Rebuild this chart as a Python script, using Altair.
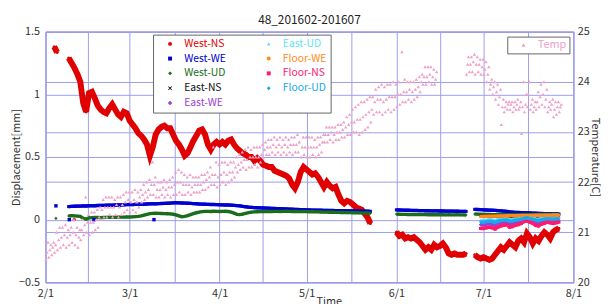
import altair as alt
import pandas as pd
from datetime import datetime, timezone

T0 = datetime(2016, 2, 1, tzinfo=timezone.utc).timestamp() * 1000
DAY = 86400000.0
FONT = "Noto Sans CJK JP"
GRID = "#9c9cee"
FRAME = "#6a6ae0"
PINK = "#eea2c8"

SERIES = ["West-NS", "West-WE", "West-UD", "East-NS", "East-WE",
          "East-UD", "Floor-WE", "Floor-NS", "Floor-UD"]
COLORS = {"West-NS": "#e00000", "West-WE": "#0000d0", "West-UD": "#1a6e1a",
          "East-NS": "#111111", "East-WE": "#9a3fd0", "East-UD": "#5fe3f5",
          "Floor-WE": "#ff8a1a", "Floor-NS": "#ff1a70", "Floor-UD": "#1aa8ee"}
XPATH = "M-1,-0.7L-0.7,-1L0,-0.3L0.7,-1L1,-0.7L0.3,0L1,0.7L0.7,1L0,0.3L-0.7,1L-1,0.7L-0.3,0Z"
SHAPES = {"West-NS": "circle", "West-WE": "square", "West-UD": "diamond",
          "East-NS": XPATH, "East-WE": "cross", "East-UD": "triangle-up",
          "Floor-WE": "circle", "Floor-NS": "square", "Floor-UD": "diamond"}

# ---- displacement data: (start day from 2/1, daily values) ----
west_ns = [
    (3, [1.38, 1.335]),
    (8, [1.29, 1.25, 1.21, 1.16, 1.10, 0.93, 0.86, 1.01, 1.02, 0.97,
         0.91, 0.88, 0.86, 0.85, 0.89, 0.92, 0.88, 0.84, 0.82, 0.86,
         0.85, 0.79, 0.76, 0.73, 0.69, 0.67, 0.64, 0.60, 0.51, 0.58,
         0.68, 0.72, 0.74, 0.75, 0.73, 0.73, 0.68, 0.63, 0.60, 0.56,
         0.51, 0.53, 0.58, 0.63, 0.67, 0.71, 0.72, 0.68, 0.60, 0.56,
         0.60, 0.62, 0.60, 0.62, 0.60, 0.63, 0.64, 0.60, 0.57, 0.55,
         0.53, 0.52, 0.50, 0.50, 0.47, 0.49, 0.47, 0.44, 0.43, 0.42,
         0.42, 0.39, 0.38, 0.37, 0.36, 0.35, 0.33, 0.28, 0.25, 0.30,
         0.38, 0.42, 0.40, 0.38, 0.36, 0.37, 0.34, 0.30, 0.26, 0.30,
         0.27, 0.25, 0.26, 0.20, 0.15, 0.13, 0.15, 0.14, 0.12, 0.10,
         0.09, 0.08, 0.05, 0.02, -0.03]),
    (121, [-0.10, -0.13, -0.12, -0.15, -0.14, -0.15, -0.14, -0.16, -0.18, -0.21,
           -0.24, -0.22, -0.24, -0.20, -0.22, -0.21, -0.19, -0.22, -0.27, -0.28,
           -0.27, -0.28, -0.28, -0.28, -0.27]),
    (148, [-0.28, -0.30, -0.31, -0.30, -0.31, -0.32, -0.31, -0.28, -0.25, -0.22,
           -0.24, -0.21, -0.18, -0.20, -0.22, -0.17, -0.15, -0.18, -0.11, -0.14,
           -0.19, -0.15, -0.17, -0.13, -0.10, -0.12, -0.15, -0.10, -0.08, -0.07]),
]
west_we = [
    (8, [0.104, 0.106, 0.107, 0.108, 0.108, 0.110, 0.109, 0.111, 0.112, 0.111,
         0.113, 0.114, 0.114, 0.115, 0.116, 0.115, 0.117, 0.118, 0.117, 0.119,
         0.120, 0.121, 0.120, 0.122, 0.123, 0.124, 0.123, 0.125, 0.126, 0.127,
         0.126, 0.128, 0.129, 0.130, 0.131, 0.132, 0.134, 0.135, 0.134, 0.133,
         0.132, 0.131, 0.130, 0.128, 0.127, 0.125, 0.124, 0.123, 0.122, 0.121,
         0.121, 0.120, 0.119, 0.118, 0.117, 0.117, 0.116, 0.114, 0.112, 0.110,
         0.106, 0.103, 0.100, 0.098, 0.096, 0.095, 0.094, 0.093, 0.092, 0.091,
         0.090, 0.089, 0.088, 0.087, 0.086, 0.085, 0.084, 0.083, 0.082, 0.081,
         0.080, 0.079, 0.078, 0.077, 0.076, 0.076, 0.075, 0.075, 0.074, 0.074,
         0.073, 0.073, 0.072, 0.072, 0.071, 0.071, 0.070, 0.070, 0.069, 0.069,
         0.068, 0.068, 0.067, 0.067, 0.066]),
    (121, [0.078, 0.077, 0.076, 0.075, 0.075, 0.074, 0.073, 0.073, 0.072, 0.072,
           0.071, 0.071, 0.070, 0.070, 0.070, 0.069, 0.069, 0.068, 0.068, 0.068,
           0.067, 0.067, 0.066, 0.066, 0.066]),
    (148, [0.082, 0.081, 0.080, 0.078, 0.077, 0.076, 0.075, 0.074, 0.072, 0.070,
           0.068, 0.066, 0.062, 0.060, 0.058, 0.057, 0.056, 0.055, 0.054, 0.053,
           0.052, 0.051, 0.050, 0.049, 0.048, 0.047, 0.047, 0.046, 0.046, 0.045]),
]
west_ud = [
    (8, [0.030, 0.032, 0.030, 0.028, 0.026, 0.010, 0.004, 0.014, 0.016, 0.018,
         0.017, 0.016, 0.017, 0.018, 0.019, 0.018, 0.020, 0.019, 0.021, 0.020,
         0.022, 0.021, 0.022, 0.024, 0.026, 0.030, 0.036, 0.042, 0.048, 0.050,
         0.051, 0.050, 0.049, 0.048, 0.047, 0.046, 0.043, 0.038, 0.030, 0.024,
         0.026, 0.032, 0.040, 0.048, 0.055, 0.060, 0.064, 0.066, 0.066, 0.065,
         0.067, 0.066, 0.065, 0.066, 0.067, 0.065, 0.060, 0.052, 0.042, 0.040,
         0.044, 0.050, 0.056, 0.060, 0.062, 0.063, 0.064, 0.064, 0.065, 0.066,
         0.065, 0.066, 0.066, 0.065, 0.066, 0.067, 0.066, 0.065, 0.066, 0.065,
         0.064, 0.065, 0.064, 0.063, 0.063, 0.062, 0.062, 0.061, 0.060, 0.060,
         0.059, 0.059, 0.058, 0.058, 0.057, 0.057, 0.056, 0.056, 0.055, 0.055,
         0.054, 0.054, 0.053, 0.053, 0.052]),
    (121, [0.044, 0.043, 0.042, 0.042, 0.041, 0.041, 0.040, 0.040, 0.041, 0.040,
           0.040, 0.039, 0.040, 0.039, 0.039, 0.040, 0.039, 0.038, 0.039, 0.038,
           0.038, 0.039, 0.038, 0.038, 0.037]),
    (148, [0.045, 0.044, 0.043, 0.042, 0.041, 0.041, 0.040, 0.040, 0.041, 0.040,
           0.040, 0.040, 0.040, 0.039, 0.040, 0.039, 0.040, 0.041, 0.040, 0.040,
           0.041, 0.040, 0.041, 0.042, 0.042, 0.041, 0.042, 0.042, 0.041, 0.042]),
]
east_ns = [(150, [0.030, 0.031, 0.030, 0.029, 0.028, 0.027, 0.028, 0.029, 0.028, 0.027,
                  0.026, 0.027, 0.026, 0.025, 0.026, 0.027, 0.030, 0.029, 0.027, 0.026,
                  0.026, 0.027, 0.028, 0.027, 0.027, 0.028, 0.028, 0.029])]
east_we = [(150, [-0.040, -0.042, -0.038, -0.034, -0.037, -0.045, -0.034, -0.027, -0.024, -0.021,
                  -0.034, -0.031, -0.025, -0.022, -0.014, -0.004, 0.000, -0.008, -0.014, -0.024,
                  -0.028, -0.018, -0.014, -0.008, -0.011, -0.014, -0.011, -0.008])]
east_ud = [(150, [-0.005, -0.006, -0.004, -0.001, -0.003, -0.008, 0.000, 0.004, 0.006, 0.008,
                  0.000, 0.002, 0.006, 0.008, 0.012, 0.016, 0.019, 0.014, 0.011, 0.006,
                  0.003, 0.009, 0.012, 0.015, 0.014, 0.012, 0.014, 0.015])]
floor_we = [(150, [0.026, 0.027, 0.027, 0.028, 0.028, 0.028, 0.029, 0.030, 0.030, 0.031,
                   0.031, 0.032, 0.032, 0.032, 0.033, 0.033, 0.034, 0.034, 0.034, 0.035,
                   0.035, 0.035, 0.036, 0.036, 0.036, 0.037, 0.037, 0.037])]
floor_ns = [(150, [-0.070, -0.070, -0.065, -0.060, -0.065, -0.075, -0.060, -0.050, -0.045, -0.040,
                   -0.060, -0.055, -0.045, -0.040, -0.030, -0.015, -0.010, -0.020, -0.030, -0.045,
                   -0.050, -0.035, -0.030, -0.020, -0.025, -0.030, -0.025, -0.020])]
floor_ud = [(150, [-0.018, -0.020, -0.016, -0.012, -0.015, -0.022, -0.012, -0.006, -0.004, -0.002,
                   -0.012, -0.010, -0.004, -0.002, 0.004, 0.010, 0.014, 0.008, 0.004, -0.004,
                   -0.008, 0.000, 0.004, 0.008, 0.006, 0.004, 0.006, 0.008])]

# isolated readings near zero / start
stray_series = ["West-WE", "West-UD", "West-WE", "West-NS", "West-WE", "West-WE"]
stray_day = [3.6, 3.6, 8.2, 9.9, 16.7, 37.4]
stray_val = [0.11, 0.01, 0.0, 0.0, 0.0, 0.0]

# ---- temperature: daily low / mid / high readings, day 0 = 2/1 ----
temp_lo = [20.45, 20.50, 20.55, 20.60, 20.65, 20.70, 20.75, 20.70, 20.75, 20.80,
           20.75, 20.70, 20.85, 20.95, 21.00, 20.95, 21.00, 21.05, 21.10, 21.25,
           21.30, 21.30, 21.35, 21.30, 21.35, 21.30, 21.35, 21.40, 21.45, 21.40,
           21.45, 21.40, 21.50, 21.60, 21.65, 21.70, 21.75, 21.75, 21.70, 21.70,
           21.75, 21.70, 21.75, 21.70, 21.75, 21.75, 21.80, 21.75, 21.75, 21.80,
           21.75, 21.80, 21.80, 21.80, 21.85, 21.85, 21.90, 21.95, 21.95, 21.90,
           21.95, 22.00, 21.95, 22.00, 22.05, 22.10, 22.20, 22.25, 22.30, 22.25,
           22.30, 22.30, 22.35, 22.30, 22.40, 22.50, 22.55, 22.55, 22.60, 22.55,
           22.60, 22.55, 22.60, 22.55, 22.60, 22.55, 22.60, 22.60, 22.50, 22.55,
           22.50, 22.50, 22.55, 22.50, 22.55, 22.60, 22.80, 22.80, 22.85, 22.80,
           22.85, 22.85, 22.90, 22.90, 22.95, 22.95, 23.00, 23.00, 22.95, 23.00,
           23.05, 23.10, 23.20, 23.35, 23.40, 23.40, 23.35, 23.40, 23.45, 23.40,
           23.45, 23.50, 23.55, 23.60, 23.60, 23.65, 23.60, 23.65, 23.70, 23.80,
           23.95, 23.95, 24.00, 23.95, 23.95, None, None, None, None, None,
           None, None, None, None, None, 24.15, 24.20, 24.20, 24.15, 24.20,
           24.15, 24.15, 24.00, 23.85, 23.75, 23.65, 23.55, 23.15, 23.40, 23.45,
           23.45, 23.40, 23.45, 23.45, 22.97, 23.40, 23.50, 23.45, 23.40, 23.45,
           23.50, 23.55, 23.50, 23.40, 23.45, 23.30, 23.35, 23.40]
temp_mid = [20.60, 20.65, 20.70, 20.75, 20.85, 20.90, 20.95, 20.90, 20.95, 21.00,
            20.95, 20.90, 21.05, 21.15, 21.20, 21.20, 21.20, 21.25, 21.30, 21.45,
            21.50, 21.50, 21.50, 21.50, 21.55, 21.50, 21.55, 21.60, 21.65, 21.60,
            21.65, 21.60, 21.70, 21.75, 21.80, 21.85, 21.95, 21.95, 21.85, 21.85,
            21.90, 21.85, 21.90, 21.90, 21.95, 22.00, 22.00, 21.95, 21.95, 21.95,
            21.90, 21.95, 21.95, 21.95, 22.00, 22.05, 22.10, 22.15, 22.15, 22.10,
            22.15, 22.20, 22.15, 22.20, 22.20, 22.30, 22.35, 22.40, 22.45, 22.45,
            22.50, 22.50, 22.50, 22.50, 22.55, 22.65, 22.70, 22.70, 22.75, 22.70,
            22.75, 22.70, 22.75, 22.70, 22.75, 22.75, 22.75, 22.80, 22.70, 22.70,
            22.70, 22.70, 22.70, 22.70, 22.75, 22.80, 22.95, 22.95, 23.00, 22.95,
            23.00, 23.00, 23.05, 23.10, 23.15, 23.20, 23.20, 23.25, 23.25, 23.30,
            23.35, 23.40, 23.45, 23.60, 23.65, 23.65, 23.60, 23.65, 23.70, 23.70,
            23.70, 23.75, 23.75, 23.80, 23.80, 23.85, 23.80, 23.85, 23.90, 24.00,
            24.10, 24.10, 24.15, 24.10, 24.05, None, None, None, None, None,
            None, None, None, None, None, 24.35, 24.35, 24.40, 24.35, 24.35,
            24.30, 24.25, 24.15, 23.95, 23.90, 23.80, 23.70, 23.50, 23.50, 23.55,
            23.55, 23.50, 23.55, 23.50, 23.50, 23.55, 23.75, 23.55, 23.50, 23.60,
            23.70, 23.75, 23.65, 23.50, 23.55, 23.45, 23.50, 23.50]
temp_hi = [20.80, 20.75, 20.80, 21.00, 21.10, 21.10, 21.15, 21.05, 21.10, 21.25,
           21.10, 21.05, 21.25, 21.70, 21.35, 21.40, 21.40, 21.45, 21.50, 21.65,
           21.70, 21.70, 21.70, 21.65, 21.70, 21.70, 21.75, 21.80, 21.80, 21.80,
           21.85, 21.80, 21.85, 21.95, 22.00, 22.05, 22.40, 22.10, 22.00, 22.00,
           22.05, 22.00, 22.05, 22.10, 22.20, 22.25, 22.20, 22.15, 22.10, 22.15,
           22.10, 22.10, 22.10, 22.15, 22.15, 22.20, 22.30, 22.70, 22.40, 22.35,
           22.40, 22.40, 22.35, 22.40, 22.40, 22.50, 22.55, 22.60, 22.65, 22.70,
           22.65, 22.70, 22.70, 22.70, 22.75, 22.80, 22.85, 22.85, 22.90, 22.85,
           22.90, 22.85, 22.90, 22.85, 22.90, 22.90, 22.95, 23.40, 22.90, 22.90,
           22.90, 22.90, 22.85, 22.90, 22.90, 22.95, 23.10, 23.10, 23.10, 23.10,
           23.15, 23.15, 23.20, 23.30, 23.35, 23.45, 23.50, 23.55, 23.60, 23.60,
           23.65, 23.70, 23.70, 23.85, 23.90, 23.95, 23.90, 23.95, 23.95, 24.00,
           23.95, 24.00, 24.60, 24.05, 24.00, 24.00, 24.00, 24.05, 24.10, 24.15,
           24.30, 24.30, 24.30, 24.25, 24.20, None, None, None, None, None,
           None, None, None, None, None, 24.50, 24.50, 24.55, 24.50, 24.45,
           24.45, 24.40, 24.30, 24.05, 24.00, 23.95, 23.85, 23.65, 23.60, 23.60,
           23.60, 23.60, 23.65, 23.60, 24.00, 23.75, 24.00, 23.65, 23.60, 23.80,
           23.95, 24.00, 23.85, 23.60, 23.65, 23.60, 23.60, 23.55]

MONTHS = ["2016-02-01", "2016-03-01", "2016-04-01", "2016-05-01",
          "2016-06-01", "2016-07-01", "2016-08-01"]


def ms(day):
    return T0 + day * DAY


month_ms = [datetime.fromisoformat(m).replace(tzinfo=timezone.utc).timestamp() * 1000 for m in MONTHS]
mid_ms = [(a + b) / 2 for a, b in zip(month_ms[:-1], month_ms[1:])]
x_ticks = sorted(month_ms + mid_ms)

DATA = {"West-NS": west_ns, "West-WE": west_we, "West-UD": west_ud,
        "East-NS": east_ns, "East-WE": east_we, "East-UD": east_ud,
        "Floor-WE": floor_we, "Floor-NS": floor_ns, "Floor-UD": floor_ud}

rows = []
for name in SERIES:
    for k, (start, vals) in enumerate(DATA[name]):
        for i, v in enumerate(vals):
            rows.append({"series": name, "t": ms(start + i), "v": v, "seg": k})
df = pd.DataFrame(rows)
sdf = pd.DataFrame({"series": stray_series, "t": [ms(d) for d in stray_day], "v": stray_val})

trows = []
for d in range(len(temp_lo)):
    for off, arr in ((0.15, temp_lo), (0.5, temp_mid), (0.85, temp_hi)):
        if arr[d] is not None:
            trows.append({"name": "Temp", "t": ms(d + off), "temp": arr[d]})
tdf = pd.DataFrame(trows)

xaxis = alt.Axis(values=x_ticks, grid=True, gridColor=GRID, gridOpacity=1, ticks=False,
                 domain=False, labelExpr="utcdate(datum.value) == 1 && utchours(datum.value) == 0 ? utcFormat(datum.value, '%-m/%-d') : ''",
                 labelPadding=5, labelFlush=False, labelOverlap=False, labelBound=False,
                 title="Time", titleX=287, titleY=22, titleBaseline="alphabetic",
                 titleFontWeight="normal")
X = alt.X("t:T", scale=alt.Scale(type="utc", domain=[ms(0), ms(182)]), axis=xaxis)

yaxis = alt.Axis(values=[-0.5, 0, 0.5, 1, 1.5], format="~g", grid=True, gridColor=GRID,
                 gridOpacity=1, ticks=False, domain=False, labelPadding=6,
                 labelFlush=False, labelOverlap=False, labelBound=False,
                 title="Displacement[mm]", titleX=-24, titleFontWeight="normal")
Y = alt.Y("v:Q", scale=alt.Scale(domain=[-0.5, 1.5], nice=False, zero=False), axis=yaxis)

# legend fills column by column in series order
color_scale = alt.Scale(domain=SERIES, range=[COLORS[s] for s in SERIES])
shape_scale = alt.Scale(domain=SERIES, range=[SHAPES[s] for s in SERIES])
# reversed domain order so this hidden legend never merges with the shown one
STROKE_DOM = SERIES[::-1]
stroke_scale = alt.Scale(domain=STROKE_DOM, range=[COLORS[s] for s in STROKE_DOM])

LEG = alt.Legend(orient="none", legendX=109, legendY=3, columns=2, title=None,
                 fillColor="white", strokeColor="#666666", padding=4, rowPadding=4,
                 columnPadding=30, symbolOffset=8, labelOffset=9, symbolSize=16,
                 labelFont=FONT, labelFontSize=10.5,
                 labelColor={"expr": "scale('color', datum.value)"})

layers = []
for name in SERIES:
    base = alt.Chart(df).transform_filter(alt.datum.series == name)
    sw = 6 if name == "West-NS" else 3.5
    layers.append(base.mark_point(filled=True, size=10, opacity=1).encode(
        x=X, y=Y,
        color=alt.Color("series:N", scale=color_scale, legend=LEG),
        shape=alt.Shape("series:N", scale=shape_scale, legend=LEG)))
    layers.append(base.mark_line(strokeWidth=sw).encode(
        x=X, y=Y, stroke=alt.Stroke("series:N", scale=stroke_scale, legend=None),
        detail="seg:N"))

stray = alt.Chart(sdf).mark_point(filled=True, size=12, opacity=1).encode(
    x=X, y=Y,
    color=alt.Color("series:N", scale=color_scale, legend=LEG),
    shape=alt.Shape("series:N", scale=shape_scale, legend=LEG))
layers.append(stray)

disp = alt.layer(*layers)

taxis = alt.Axis(orient="right", values=[20, 21, 22, 23, 24, 25], grid=True, gridColor=GRID,
                 gridOpacity=1, ticks=False, domain=False, labelPadding=4,
                 labelFlush=False, labelOverlap=False, labelBound=False,
                 title="Temperature[C]", titleAngle=90, titleX=21, titleBaseline="middle",
                 titleFontWeight="normal")
temp = alt.Chart(tdf).mark_point(shape="triangle-up", filled=True, size=12, opacity=1).encode(
    x=X,
    y=alt.Y("temp:Q", scale=alt.Scale(domain=[20, 25], nice=False, zero=False), axis=taxis),
    fill=alt.Fill("name:N", scale=alt.Scale(domain=["Temp"], range=[PINK]),
                  legend=alt.Legend(orient="none", legendX=468, legendY=5, title=None,
                                    fillColor="white", strokeColor="#666666", padding=3,
                                    symbolOffset=8, labelOffset=9, symbolSize=18,
                                    symbolType="triangle-up", labelColor=PINK,
                                    labelFont=FONT, labelFontSize=11)))

chart = alt.layer(disp, temp).resolve_scale(y="independent").properties(
    width=535, height=254,
    autosize=alt.AutoSizeParams(type="none"),
    padding={"left": 38, "top": 22, "right": 29, "bottom": 20},
    title=alt.Title("48_201602-201607", font=FONT, fontSize=12, fontWeight="normal",
                    color="#222222", offset=-1, frame="group"),
).configure_view(stroke=FRAME, strokeWidth=1).configure_axis(
    labelFont=FONT, labelFontSize=11, labelColor="#333333",
    titleFont=FONT, titleFontSize=11, titleColor="#333333")

chart.save("out.html", embed_options={"renderer": "svg", "actions": False})
